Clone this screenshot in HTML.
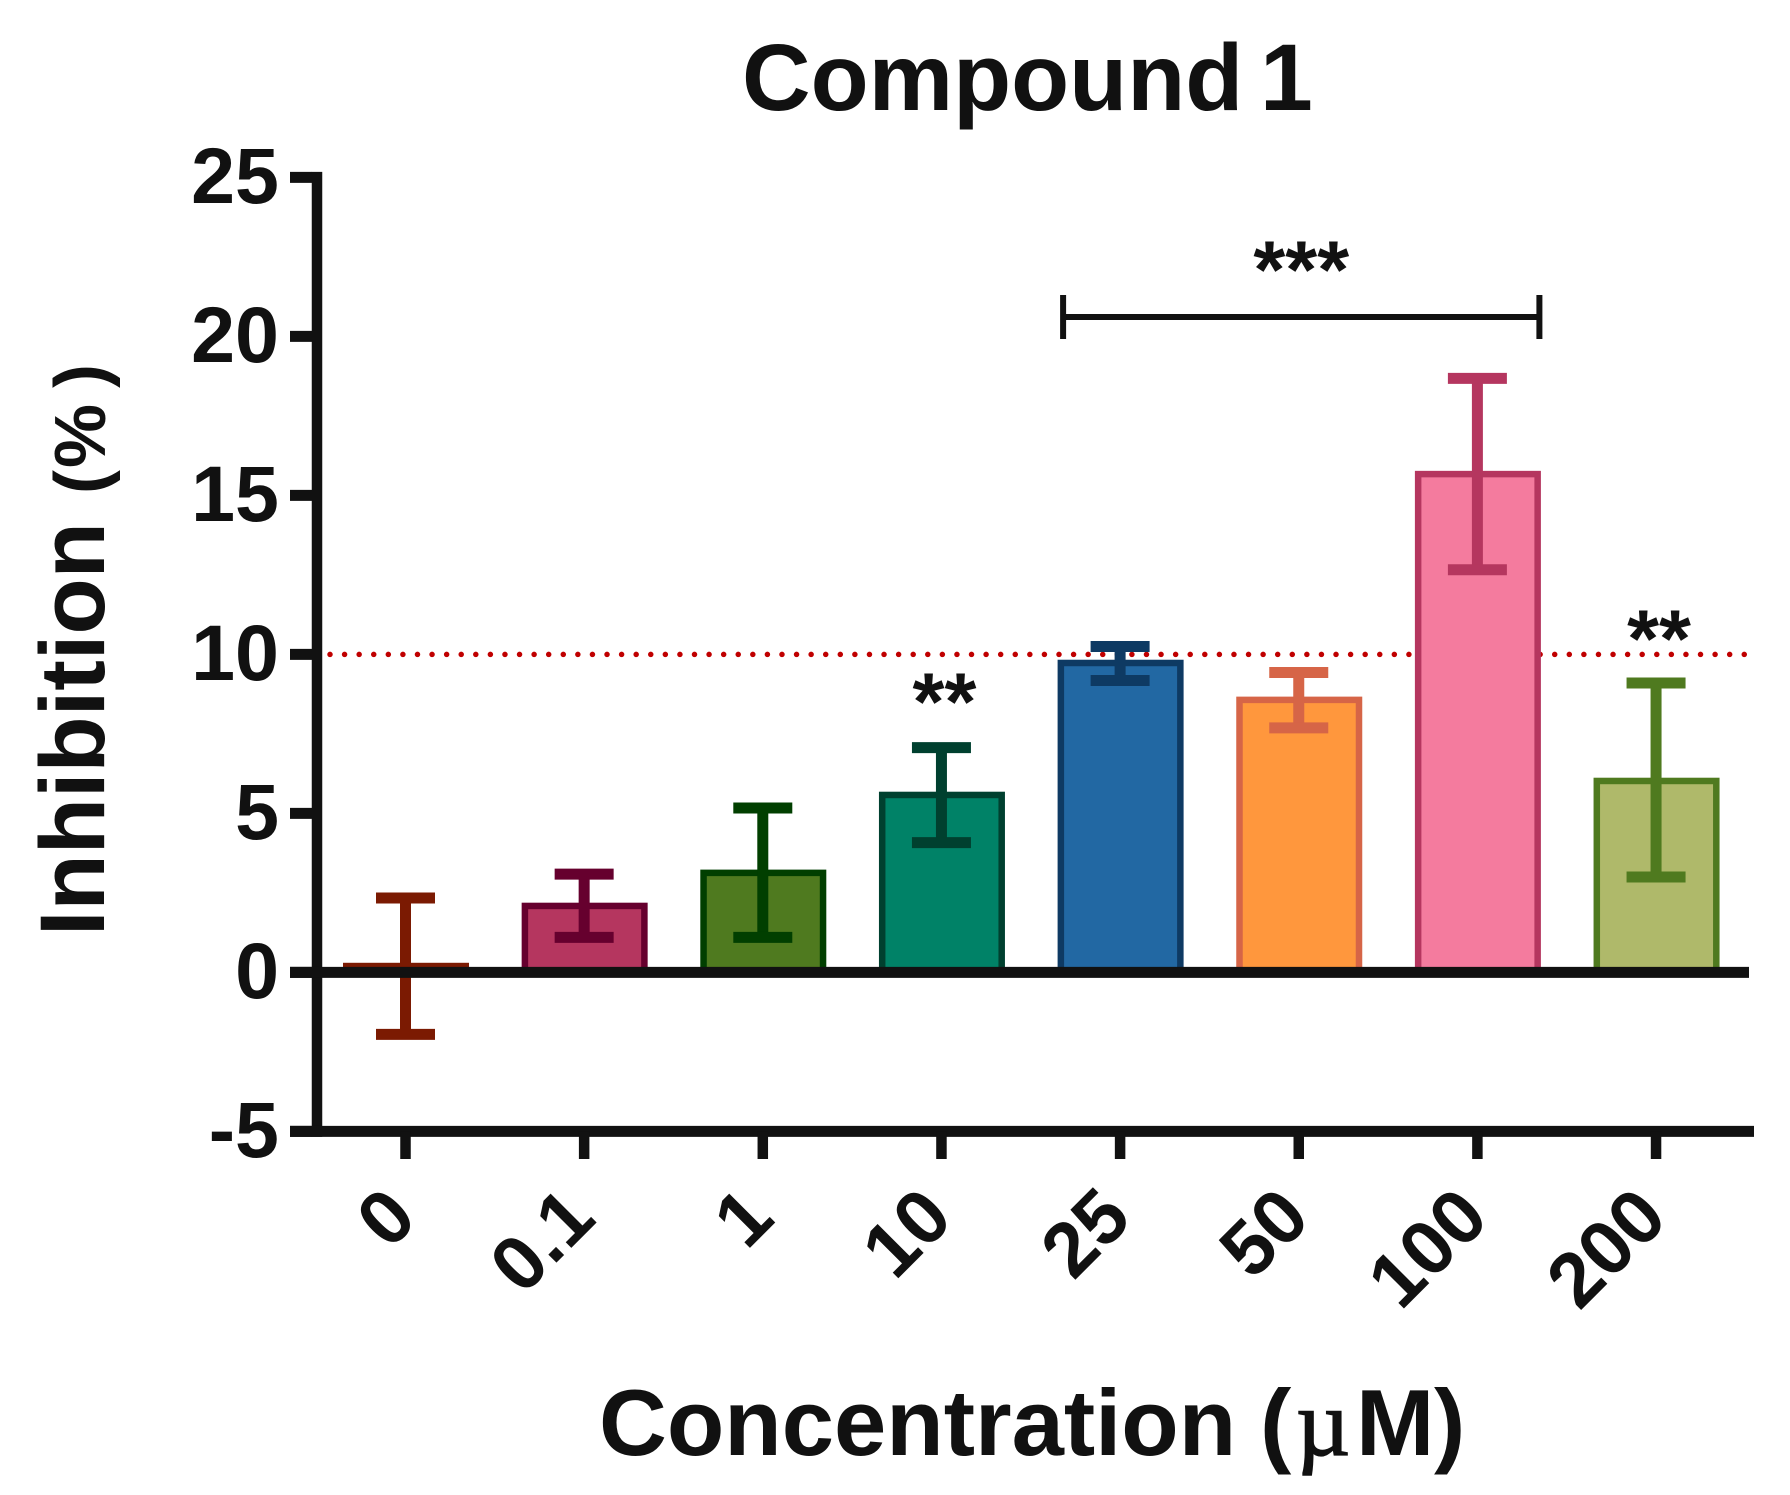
<!DOCTYPE html>
<html lang="en">
<head>
<meta charset="utf-8">
<title>Compound 1</title>
<style>
html,body{margin:0;padding:0;background:#fff;}
body{width:1790px;height:1495px;overflow:hidden;}
svg{display:block;}
text{font-family:"Liberation Sans",sans-serif;font-weight:700;fill:#111;}
</style>
</head>
<body>
<svg id="chart" xmlns="http://www.w3.org/2000/svg" width="1790" height="1495" viewBox="0 0 1790 1495">
  <rect width="1790" height="1495" fill="#ffffff"/>
  <text y="110" font-size="95"><tspan x="742">Compound</tspan><tspan x="1260">1</tspan></text>
  <text transform="translate(104,929) rotate(-90)" font-size="92"><tspan x="-7" y="0">Inhibition</tspan><tspan x="435" y="1" font-size="72">(</tspan><tspan x="461" y="1" font-size="72">%</tspan><tspan x="541" y="1" font-size="72">)</tspan></text>
  <text y="1455" font-size="94"><tspan x="599">Concentration</tspan><tspan x="1260">(</tspan><tspan x="1296" font-family="Liberation Serif, serif" font-weight="400" stroke="#111" stroke-width="1.5">µ</tspan><tspan x="1356">M</tspan><tspan x="1434">)</tspan></text>
  <g id="plot"></g>
</svg>
<script>
var categories = ['0', '0.1', '1', '10', '25', '50', '100', '200'];
var means = [0.2, 2.09, 3.13, 5.58, 9.73, 8.57, 15.67, 6.02];
var errorHigh = [2.34, 3.09, 5.17, 7.07, 10.25, 9.43, 18.68, 9.1];
var errorLow = [-1.95, 1.1, 1.1, 4.08, 9.18, 7.69, 12.66, 3.0];
var yTickValues = [25, 20, 15, 10, 5, 0, -5];
var thresholdValue = 10;
var barFills = ['#ffffff', '#b5365f', '#4f7a1f', '#008267', '#2268a3', '#ff973d', '#f47b9e', '#afb96a'];
var barStrokes = ['#7b1a02', '#66002e', '#013f00', '#00402f', '#0e3a63', '#d66547', '#b5365f', '#4f7a1f'];
var significance = [{cat: 3, mark: '**'}, {cat: 7, mark: '**'}];
var bracketFrom = 4;
var bracketTo = 6;
var bracketValue = 20.61;
var bracketMark = '***';

var NS = 'http://www.w3.org/2000/svg';
var AXIS = '#111111';
var plot = document.getElementById('plot');
function yScale(v) { return 972.4 - v * 31.8; }
function xScale(i) { return 405.5 + i * 178.65; }
function mk(tag, attrs, text) {
  var el = document.createElementNS(NS, tag);
  for (var k in attrs) { el.setAttribute(k, attrs[k]); }
  if (text !== undefined) { el.textContent = text; }
  plot.appendChild(el);
  return el;
}
var el;

el = mk('line', {x1: 330, x2: 1745, y1: yScale(thresholdValue), y2: yScale(thresholdValue), stroke: '#c00000', 'stroke-width': 5.5, 'stroke-linecap': 'round', 'stroke-dasharray': '0 14.58'});



categories.forEach(function (cat, i) {
  var cx = xScale(i);
  var top = yScale(means[i]);
  var zero = yScale(0);
  var bar = mk('rect', {x: cx - 59.25, y: top, width: 119.5, height: Math.max(zero - top, 0), fill: barFills[i], stroke: barStrokes[i], 'stroke-width': 6.5});
  
  
  var stem = mk('line', {x1: cx, x2: cx, y1: yScale(errorHigh[i]), y2: yScale(errorLow[i]), stroke: barStrokes[i], 'stroke-width': 11});
  
  
  var capHigh = mk('line', {x1: cx - 29.5, x2: cx + 29.5, y1: yScale(errorHigh[i]), y2: yScale(errorHigh[i]), stroke: barStrokes[i], 'stroke-width': 11});
  
  
  var capLow = mk('line', {x1: cx - 29.5, x2: cx + 29.5, y1: yScale(errorLow[i]), y2: yScale(errorLow[i]), stroke: barStrokes[i], 'stroke-width': 11});
  
  
});

el = mk('line', {x1: 317, x2: 317, y1: yScale(25) - 5.5, y2: yScale(-5) + 5.5, stroke: AXIS, 'stroke-width': 10.5});


el = mk('line', {x1: 290, x2: 1754, y1: yScale(-5), y2: yScale(-5), stroke: AXIS, 'stroke-width': 11});


el = mk('line', {x1: 290, x2: 1749, y1: yScale(0), y2: yScale(0), stroke: AXIS, 'stroke-width': 11});



yTickValues.forEach(function (v) {
  var y = yScale(v);
  var tick = mk('line', {x1: 290, x2: 312, y1: y, y2: y, stroke: AXIS, 'stroke-width': 11});
  
  
  var label = mk('text', {x: 279, y: y + 25.5, 'text-anchor': 'end', 'font-size': 79}, String(v));
  
  
});

categories.forEach(function (cat, i) {
  var x = xScale(i);
  var tick = mk('line', {x1: x, x2: x, y1: yScale(-5), y2: 1159, stroke: AXIS, 'stroke-width': 10.5});
  
  
  var lx = x + 14;
  var ly = 1221;
  var label = mk('text', {x: lx, y: ly, 'text-anchor': 'end', 'font-size': 77, transform: 'rotate(-45 ' + lx + ' ' + ly + ')'}, cat);
  
  
});

significance.forEach(function (s) {
  var star = mk('text', {x: xScale(s.cat) + 3, y: s.cat === 3 ? 730 : 667, 'text-anchor': 'middle', 'font-size': 82}, s.mark);
  
  
});

var bx1 = xScale(bracketFrom) - 57;
var bx2 = xScale(bracketTo) + 62;
var by = yScale(bracketValue);
el = mk('line', {x1: bx1, x2: bx2, y1: by, y2: by, stroke: AXIS, 'stroke-width': 6});


el = mk('line', {x1: bx1, x2: bx1, y1: by - 22, y2: by + 22, stroke: AXIS, 'stroke-width': 6});


el = mk('line', {x1: bx2, x2: bx2, y1: by - 22, y2: by + 22, stroke: AXIS, 'stroke-width': 6});


el = mk('text', {x: (bx1 + bx2) / 2 + 0, y: 298, 'text-anchor': 'middle', 'font-size': 82}, bracketMark);


</script>
</body>
</html>
